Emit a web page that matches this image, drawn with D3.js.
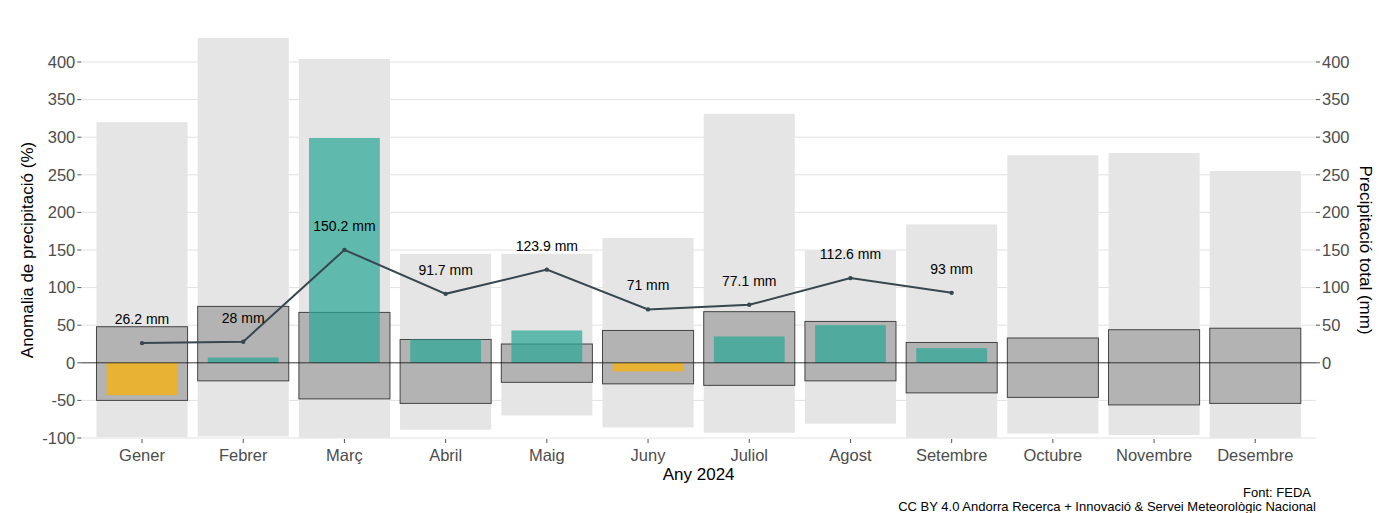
<!DOCTYPE html>
<html lang="ca">
<head>
  <meta charset="utf-8">
  <title>Anomalia de precipitació 2024</title>
  <script src="https://d3js.org/d3.v7.min.js"></script>
  <style>
    html, body { margin: 0; padding: 0; background: #fff; }
    svg { display: block; font-family: "Liberation Sans", Arial, sans-serif; }
    .tick-label { font-size: 16.5px; fill: #4d4d4d; }
    .grid { stroke: #e2e2e2; stroke-width: 1; }
    .title { font-size: 17px; fill: #000; }
  </style>
</head>
<body>
  <svg width="1385" height="513"></svg>
  <script>
    // mesos
    const months = ["Gener", "Febrer", "Març", "Abril", "Maig", "Juny", "Juliol",
                    "Agost", "Setembre", "Octubre", "Novembre", "Desembre"];
    // rang històric (barres gris clar), anomalia %
    const histMax = [320, 432, 404, 145, 145, 166, 331, 150, 184, 276, 279, 255];
    const histMin = [-99, -98, -100, -89, -70, -86, -93, -81, -100, -94, -96, -100];
    // caixa central (gris fosc)
    const boxTop = [48, 75, 67, 31, 25, 43, 68, 55, 27, 33, 44, 46];
    const boxBot = [-50, -24, -48, -54, -26, -28, -30, -24, -40, -46, -56, -54];
    // anomalia 2024 (%)
    const anomaly = [-43, 7, 299, 31, 43, -11.5, 35, 50, 19.5];
    // precipitació total 2024 (mm)
    const precip = [26.2, 28, 150.2, 91.7, 123.9, 71, 77.1, 112.6, 93];
    const leftTicks = [-100, -50, 0, 50, 100, 150, 200, 250, 300, 350, 400];
    const rightTicks = [0, 50, 100, 150, 200, 250, 300, 350, 400];

    const svg = d3.select("svg");
    const left = 81.3, right = 1316;

    const x = d3.scalePoint().domain(months).range([left, right]).padding(0.6);
    const y = d3.scaleLinear().domain([-100, 400]).range([438, 62]);
    const step = x.step();
    const wide = step * 0.9, narrow = step * 0.7;

    // gridlines
    svg.append("g").selectAll("line")
      .data(leftTicks)
      .join("line")
        .attr("class", "grid")
        .attr("x1", left).attr("x2", right)
        .attr("y1", d => y(d)).attr("y2", d => y(d));

    // historical range
    svg.append("g").selectAll("rect")
      .data(months)
      .join("rect")
        .attr("x", d => x(d) - wide / 2)
        .attr("width", wide)
        .attr("y", (d, i) => y(histMax[i]))
        .attr("height", (d, i) => y(histMin[i]) - y(histMax[i]))
        .attr("fill", "#e5e5e5");

    // central box
    svg.append("g").selectAll("rect")
      .data(months)
      .join("rect")
        .attr("x", d => x(d) - wide / 2)
        .attr("width", wide)
        .attr("y", (d, i) => y(boxTop[i]))
        .attr("height", (d, i) => y(boxBot[i]) - y(boxTop[i]))
        .attr("fill", "#b3b3b3")
        .attr("stroke", "#222")
        .attr("stroke-opacity", 0.8)
        .attr("stroke-width", 1);

    // anomalies
    svg.append("g").selectAll("rect")
      .data(anomaly)
      .join("rect")
        .attr("x", (d, i) => x(months[i]) - narrow / 2)
        .attr("width", narrow)
        .attr("y", d => y(Math.max(0, d)))
        .attr("height", d => Math.abs(y(d) - y(0)))
        .attr("fill", d => d < 0 ? "#ffb200" : "#27a896")
        .attr("fill-opacity", 0.7);

    // zero line
    svg.append("line")
      .attr("x1", left).attr("x2", right)
      .attr("y1", y(0)).attr("y2", y(0))
      .attr("stroke", "#000").attr("stroke-opacity", 0.8).attr("stroke-width", 0.9);

    // precipitation line
    const line = d3.line()
      .x((d, i) => x(months[i]))
      .y(d => y(d));
    svg.append("path")
      .datum(precip)
      .attr("d", line)
      .attr("fill", "none")
      .attr("stroke", "#37474f")
      .attr("stroke-width", 2);

    svg.append("g").selectAll("circle")
      .data(precip)
      .join("circle")
        .attr("cx", (d, i) => x(months[i]))
        .attr("cy", d => y(d))
        .attr("r", 2.2)
        .attr("fill", "#37474f");

    svg.append("g").selectAll("text")
      .data(precip)
      .join("text")
        .attr("x", (d, i) => x(months[i]))
        .attr("y", d => y(d) - 19)
        .attr("text-anchor", "middle")
        .attr("font-size", 14)
        .attr("fill", "#000")
        .text(d => d + " mm");

    // left axis
    const gl = svg.append("g");
    gl.selectAll("line")
      .data(leftTicks)
      .join("line")
        .attr("x1", left - 4).attr("x2", left)
        .attr("y1", d => y(d)).attr("y2", d => y(d))
        .attr("stroke", "#555");
    gl.selectAll("text")
      .data(leftTicks)
      .join("text")
        .attr("class", "tick-label")
        .attr("x", left - 6)
        .attr("y", d => y(d))
        .attr("dy", "0.35em")
        .attr("text-anchor", "end")
        .text(d => d);

    // right axis
    const gr = svg.append("g");
    gr.selectAll("line")
      .data(rightTicks)
      .join("line")
        .attr("x1", right).attr("x2", right + 4)
        .attr("y1", d => y(d)).attr("y2", d => y(d))
        .attr("stroke", "#555");
    gr.selectAll("text")
      .data(rightTicks)
      .join("text")
        .attr("class", "tick-label")
        .attr("x", right + 6)
        .attr("y", d => y(d))
        .attr("dy", "0.35em")
        .text(d => d);

    // x axis
    const gx = svg.append("g");
    gx.selectAll("line")
      .data(months)
      .join("line")
        .attr("x1", d => x(d)).attr("x2", d => x(d))
        .attr("y1", 439).attr("y2", 443)
        .attr("stroke", "#555");
    gx.selectAll("text")
      .data(months)
      .join("text")
        .attr("class", "tick-label")
        .attr("x", d => x(d))
        .attr("y", 461)
        .attr("text-anchor", "middle")
        .text(d => d);

    // titles
    svg.append("text")
      .attr("class", "title")
      .attr("transform", `translate(33,${(y(400) + y(-100)) / 2}) rotate(-90)`)
      .attr("text-anchor", "middle")
      .text("Anomalia de precipitació (%)");

    svg.append("text")
      .attr("class", "title")
      .attr("transform", `translate(1360,${(y(400) + y(-100)) / 2}) rotate(90)`)
      .attr("text-anchor", "middle")
      .text("Precipitació total (mm)");

    svg.append("text")
      .attr("class", "title")
      .attr("x", (left + right) / 2)
      .attr("y", 480)
      .attr("text-anchor", "middle")
      .text("Any 2024");

    svg.append("text")
      .attr("x", 1311).attr("y", 497)
      .attr("text-anchor", "end")
      .attr("font-size", 13)
      .text("Font: FEDA");
    svg.append("text")
      .attr("x", 1316).attr("y", 511)
      .attr("text-anchor", "end")
      .attr("font-size", 13)
      .text("CC BY 4.0 Andorra Recerca + Innovació & Servei Meteorològic Nacional");
  </script>
</body>
</html>
